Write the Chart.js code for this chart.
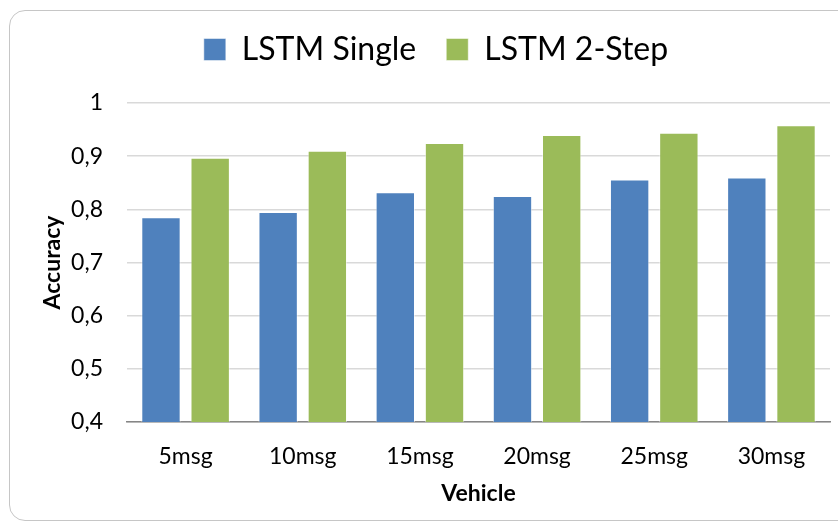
<!DOCTYPE html>
<html>
<head>
<meta charset="utf-8">
<script src="https://cdn.jsdelivr.net/npm/chart.js@4.4.1/dist/chart.umd.min.js"></script>
<style>
  html, body { margin: 0; padding: 0; background: #ffffff; overflow: hidden; }
  #wrap { position: relative; width: 838px; height: 525px; }
  #frame { position: absolute; left: 9px; top: 10px; width: 850px; height: 511px;
           border: 1.5px solid #c6c6c6; border-radius: 16px; box-sizing: border-box; }
  canvas { position: absolute; left: 0; top: 0; }
</style>
</head>
<body>
<div id="wrap">
  <div id="frame"></div>
  <canvas id="c" width="838" height="525"></canvas>
</div>
<script>
const categories = ["5msg", "10msg", "15msg", "20msg", "25msg", "30msg"];
const lstmSingle = [0.785, 0.795, 0.832, 0.825, 0.856, 0.860];
const lstm2Step = [0.897, 0.910, 0.925, 0.940, 0.944, 0.958];
const seriesNames = ["LSTM Single", "LSTM 2-Step"];
const yTicks = [0.4, 0.5, 0.6, 0.7, 0.8, 0.9, 1];

const FONT = "Lato, 'Open Sans', sans-serif";

const legendTweak = {
  id: 'legendTweak',
  beforeInit(chart) {
    const fit = chart.legend.fit;
    chart.legend.fit = function () {
      fit.call(this);
      this.height += 27.5;
    };
  },
  afterLayout(chart) {
    chart.legend.left += 21;
    chart.legend.right += 21;
  }
};

new Chart(document.getElementById('c'), {
  type: 'bar',
  data: {
    labels: categories,
    datasets: [
      { label: seriesNames[0], data: lstmSingle, backgroundColor: '#4F81BD',
        borderColor: 'rgba(255,255,255,0.5)', borderWidth: 1 },
      { label: seriesNames[1], data: lstm2Step, backgroundColor: '#9BBB59',
        borderColor: 'rgba(255,255,255,0.5)', borderWidth: 1 }
    ]
  },
  plugins: [legendTweak],
  options: {
    responsive: false,
    animation: false,
    categoryPercentage: 0.84,
    barPercentage: 0.8,
    layout: { padding: { top: 3.5, right: 8, left: 0, bottom: 0 } },
    plugins: {
      legend: {
        position: 'top',
        labels: {
          font: { family: FONT, size: 32 },
          color: '#000',
          boxWidth: 22,
          boxHeight: 22,
          padding: 30
        }
      },
      tooltip: { enabled: false }
    },
    scales: {
      y: {
        min: 0.4, max: 1,
        afterBuildTicks: (s) => { s.ticks = yTicks.map(v => ({ value: v })); },
        afterFit: (s) => { s.width = 127; },
        border: { display: false },
        grid: { color: '#d9d9d9', lineWidth: 1.5, drawTicks: false },
        ticks: {
          padding: 24,
          color: '#000',
          font: { family: FONT, size: 23 },
          callback: (v) => String(v).replace('.', ',')
        },
        title: {
          display: true, text: 'Accuracy', color: '#000',
          font: { family: FONT, size: 23, weight: 'bold' },
          padding: { top: 39 }
        }
      },
      x: {
        afterFit: (s) => { s.height = 103; },
        border: { display: true, color: '#868686', width: 1.5 },
        grid: { display: false, drawTicks: false },
        ticks: { padding: 20.5, color: '#000', font: { family: FONT, size: 23 } },
        title: {
          display: true, text: 'Vehicle', color: '#000',
          font: { family: FONT, size: 23, weight: 'bold' },
          padding: { bottom: 18 }
        }
      }
    }
  }
});
</script>
</body>
</html>
